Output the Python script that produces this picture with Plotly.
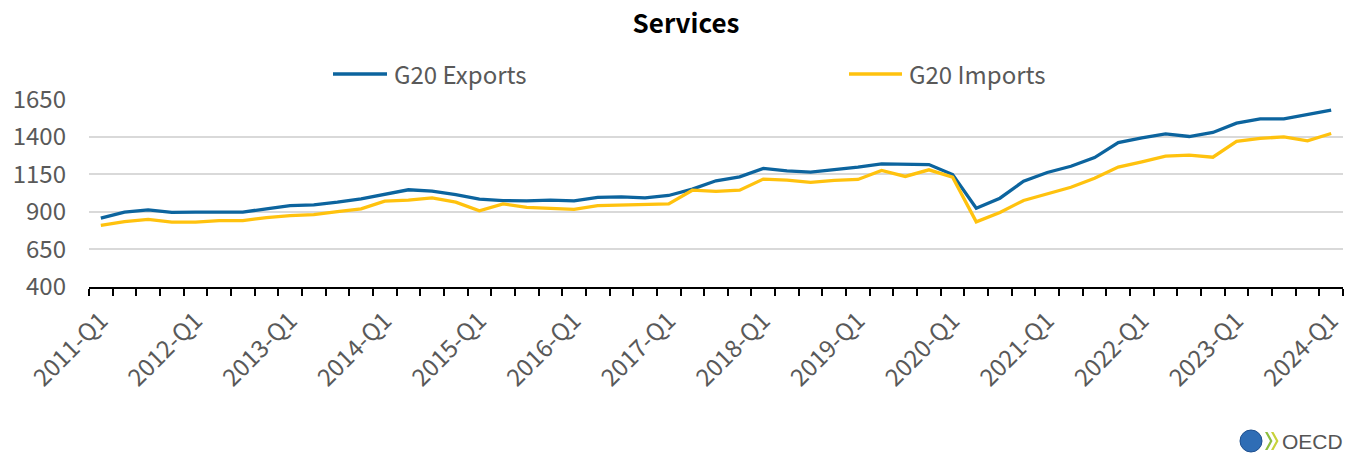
import plotly.graph_objects as go

W, H = 1357, 458
ML, MR, MT, MB = 89, 14, 99, 171

quarters = [f"{y}-Q{q}" for y in range(2011, 2025) for q in range(1, 5)][:53]

exports = [858, 898, 913, 896, 898, 898, 898, 920, 942, 947, 964, 987, 1016, 1047, 1038, 1015,
           985, 975, 973, 978, 973, 996, 1000, 993, 1009, 1051, 1107, 1133, 1189, 1173, 1165, 1180,
           1198, 1220, 1217, 1215, 1149, 924, 991, 1104, 1162, 1204, 1262, 1362, 1393, 1420, 1402,
           1429, 1491, 1520, 1520, 1547, 1578]
imports = [809, 835, 849, 831, 831, 842, 842, 862, 875, 882, 902, 920, 971, 978, 993, 965,
           907, 953, 929, 924, 916, 942, 944, 949, 953, 1044, 1036, 1044, 1118, 1111, 1096, 1109,
           1116, 1176, 1136, 1180, 1131, 833, 896, 976, 1018, 1064, 1124, 1198, 1233, 1271, 1278,
           1264, 1369, 1389, 1400, 1373, 1422]
series_names = ["G20 Exports", "G20 Imports"]
y_ticks = [400, 650, 900, 1150, 1400, 1650]

label_idx = [i for i, q in enumerate(quarters) if q.endswith("Q1")]
label_txt = [quarters[i] for i in label_idx]

FONT = "Noto Sans CJK JP"
GRAY = "#595959"
BLUE = "#0C649E"
GOLD = "#FFC20E"
FS = 24

pw = W - ML - MR
ph = H - MT - MB


def px(x):
    return (x - ML) / pw


def py(y):
    return (H - MB - y) / ph


xs = list(range(len(quarters)))

fig = go.Figure()
for vals, name, col in [(exports, series_names[0], BLUE), (imports, series_names[1], GOLD)]:
    fig.add_trace(go.Scatter(x=xs, y=vals, mode="lines", name=name, showlegend=False,
                             line=dict(color=col, width=3.3), hoverinfo="skip"))

fig.update_layout(
    width=W, height=H,
    margin=dict(l=ML, r=MR, t=MT, b=MB, autoexpand=False),
    paper_bgcolor="white", plot_bgcolor="white",
    font=dict(family=FONT, color=GRAY, size=FS),
    title=dict(text="<b>Services</b>", x=686 / W, xanchor="center", xref="container",
               y=1 - 23.5 / H, yanchor="middle", yref="container",
               font=dict(family=FONT, size=26, color="black")),
    showlegend=False,
)

fig.update_yaxes(range=[399, 1652], tickmode="array", tickvals=y_ticks,
                 showgrid=True, gridcolor="#D9D9D9", gridwidth=2,
                 zeroline=False, showline=False, ticks="",
                 tickfont=dict(family=FONT, size=FS, color=GRAY), ticklabelstandoff=22)

fig.update_xaxes(range=[-0.5, len(quarters) - 0.5], tickmode="array",
                 tickvals=label_idx, ticktext=label_txt, tickangle=-45,
                 ticks="", showgrid=False, zeroline=False,
                 showline=True, linecolor="black", linewidth=2,
                 ticklabelstandoff=8,
                 tickfont=dict(family=FONT, size=FS, color=GRAY),
                 minor=dict(ticks="outside", tickmode="linear", tick0=-0.5, dtick=1,
                            ticklen=7, tickwidth=2, tickcolor="black", showgrid=False))

# manual legend (long line symbols as in the reference)
for (x0, x1, tx), name, col in [((333, 387, 392), series_names[0], BLUE),
                                ((849, 902, 907), series_names[1], GOLD)]:
    fig.add_shape(type="line", xref="paper", yref="paper",
                  x0=px(x0), x1=px(x1), y0=py(74), y1=py(74),
                  line=dict(color=col, width=3.5))
    fig.add_annotation(text=name, xref="paper", yref="paper", x=px(tx), y=py(73),
                       xanchor="left", yanchor="middle", showarrow=False,
                       font=dict(family=FONT, size=FS, color=GRAY))

# OECD logo (approximation)
fig.add_shape(type="circle", xref="paper", yref="paper",
              x0=px(1240), x1=px(1262), y0=py(452), y1=py(430),
              fillcolor="#2F6DB5", line=dict(color="#1E4F8F", width=1))
for dx, col in [(0, "#8DBE3F"), (6, "#C8D23A")]:
    x0 = 1265 + dx
    path = (f"M {px(x0)},{py(432)} L {px(x0 + 5)},{py(441)} L {px(x0)},{py(450)} "
            f"L {px(x0 + 2.5)},{py(450)} L {px(x0 + 7.5)},{py(441)} L {px(x0 + 2.5)},{py(432)} Z")
    fig.add_shape(type="path", xref="paper", yref="paper", path=path,
                  fillcolor=col, line=dict(width=0))
fig.add_annotation(text="OECD", xref="paper", yref="paper", x=px(1280), y=py(441),
                   xanchor="left", yanchor="middle", showarrow=False,
                   font=dict(family="Liberation Sans", size=21, color="#555555"))

fig.write_html("out.html", config={"displayModeBar": False},
               post_script="document.body.style.margin='0px';")
